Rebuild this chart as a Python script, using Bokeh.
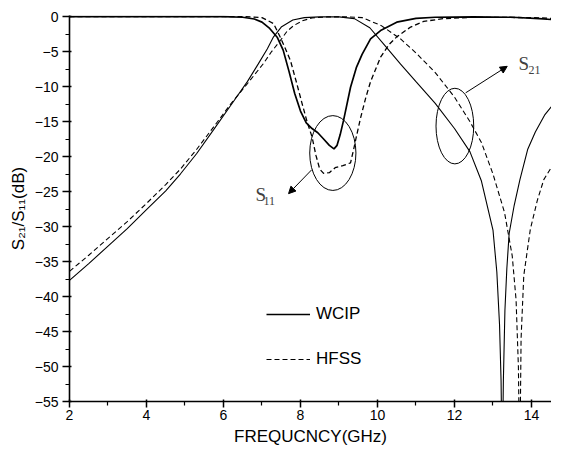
from bokeh.plotting import figure
from bokeh.models import (Range1d, FixedTicker, Legend, LegendItem, Arrow, NormalHead)
from bokeh.core.properties import value
from bokeh.embed import file_html
from bokeh.resources import INLINE

# ---------------- data ----------------
s21_wcip_f = [2.0, 2.5, 3.0, 3.5, 4.0, 4.5, 4.88, 5.3, 5.74, 6.2, 6.62, 6.9, 7.14, 7.3, 7.5,
              7.8, 8.1, 8.5, 9.0, 9.4, 9.8, 10.2, 10.6, 11.0, 11.5, 12.0, 12.4, 12.7,
              13.0, 13.1, 13.17, 13.21, 13.24, 13.27, 13.31, 13.36, 13.42, 13.55, 13.7,
              13.9, 14.1, 14.35, 14.6, 14.95]
s21_wcip_db = [-37.7, -35.3, -32.8, -30.3, -27.6, -24.9, -22.5, -19.6, -16.2, -12.6, -9.3,
               -6.8, -4.6, -2.9, -1.5, -0.5, -0.15, -0.05, -0.05, -0.3, -1.6, -4.2, -6.8,
               -9.3, -12.4, -16.0, -19.3, -23.5, -30.5, -36.5, -44.0, -52.0, -65.0, -52.0,
               -42.0, -36.0, -31.0, -27.0, -23.3, -19.0, -16.5, -14.0, -12.3, -11.7]

s21_hfss_f = [2.0, 2.5, 3.0, 3.5, 4.0, 4.5, 4.88, 5.3, 5.74, 6.2, 6.62, 7.04, 7.25, 7.48, 7.65,
              7.82, 8.05, 8.3, 8.7, 9.2, 9.6, 10.1, 10.6, 11.0, 11.5, 12.0, 12.4, 12.7, 13.0,
              13.3, 13.5, 13.6, 13.66, 13.695, 13.73, 13.8, 13.97, 14.15, 14.32, 14.6, 14.95]
s21_hfss_db = [-36.4, -34.1, -31.7, -29.3, -26.7, -24.0, -21.8, -19.0, -15.8, -12.4, -9.6,
               -6.7, -5.0, -3.4, -2.1, -1.3, -0.6, -0.2, -0.05, -0.05, -0.15, -1.3, -3.2,
               -5.2, -8.0, -11.5, -15.0, -18.0, -22.5, -28.0, -34.2, -40.5, -50.0, -65.0,
               -46.0, -37.0, -30.4, -26.3, -23.3, -20.8, -19.0]

s11_wcip_f = [2.0, 4.0, 6.0, 6.5, 6.8, 7.0, 7.2, 7.4, 7.55, 7.7, 7.85, 8.0, 8.15, 8.3, 8.45,
              8.6, 8.75, 8.87, 8.95, 9.03, 9.12, 9.3, 9.45, 9.6, 9.82, 10.08, 10.5, 11.0,
              11.5, 12.5, 13.5, 14.2, 14.95]
s11_wcip_db = [0.0, 0.0, -0.02, -0.1, -0.35, -0.8, -1.7, -3.0, -4.8, -7.8, -11.0, -13.5,
               -15.2, -16.0, -16.6, -17.5, -18.4, -18.9, -18.4, -16.9, -14.8, -10.1, -7.3,
               -5.4, -3.2, -2.0, -0.8, -0.25, -0.1, -0.05, -0.1, -0.3, -0.6]

s11_hfss_f = [2.0, 4.0, 6.5, 7.0, 7.3, 7.48, 7.6, 7.74, 7.9, 8.04, 8.17, 8.3, 8.4, 8.5, 8.6,
              8.75, 8.9, 9.1, 9.3, 9.38, 9.45, 9.56, 9.7, 9.82, 10.08, 10.3, 10.5, 10.86,
              11.2, 11.7, 12.5, 14.0, 14.95]
s11_hfss_db = [0.0, 0.0, 0.0, -0.15, -1.0, -3.0, -4.5, -6.3, -9.5, -12.4, -15.0, -17.2,
               -19.8, -21.8, -22.4, -22.3, -21.6, -21.3, -20.9, -19.0, -17.2, -14.5, -11.5,
               -9.3, -5.8, -4.0, -2.9, -1.5, -0.7, -0.3, -0.1, -0.15, -0.35]

x_ticks = [2, 4, 6, 8, 10, 12, 14]
x_minor = [3, 5, 7, 9, 11, 13, 15]
y_ticks = [0, -5, -10, -15, -20, -25, -30, -35, -40, -45, -50, -55]
y_minor = [-2.5, -7.5, -12.5, -17.5, -22.5, -27.5, -32.5, -37.5, -42.5, -47.5, -52.5]

series_names = ["WCIP", "HFSS"]

# ---------------- figure ----------------
FONT = "Liberation Sans"
p = figure(frame_width=482, frame_height=386, output_backend="svg", toolbar_location=None,
           x_range=Range1d(2, 14.52), y_range=Range1d(-55, 0.15),
           min_border_left=69, min_border_top=15, min_border_right=0, min_border_bottom=0)
p.outline_line_color = None
p.xgrid.visible = False
p.ygrid.visible = False

p.xaxis.ticker = FixedTicker(ticks=x_ticks, minor_ticks=x_minor)
p.yaxis.ticker = FixedTicker(ticks=y_ticks, minor_ticks=y_minor)
for ax in (p.xaxis, p.yaxis):
    ax.axis_line_width = 1.6
    ax.axis_line_color = "black"
    ax.major_tick_line_width = 1.5
    ax.minor_tick_line_width = 1.2
    ax.major_tick_line_color = "black"
    ax.minor_tick_line_color = "black"
    ax.major_tick_out = 7
    ax.minor_tick_out = 4
    ax.major_label_text_font = FONT
    ax.major_label_text_font_size = "14px"
    ax.major_label_text_color = "black"
    ax.axis_label_text_font = FONT
    ax.axis_label_text_font_size = "17px"
    ax.axis_label_text_font_style = "normal"
    ax.axis_label_text_color = "black"
p.xaxis.major_tick_out = 6
p.xaxis.major_label_standoff = 2
p.yaxis.major_label_standoff = 4
p.xaxis.axis_label = "FREQUCNCY(GHz)"
p.yaxis.axis_label = "S\u2082\u2081/S\u2081\u2081(dB)"
p.xaxis.axis_label_standoff = 4
p.xaxis.axis_label_text_line_height = 1.0
p.yaxis.axis_label_standoff = 4

r_s21_w = p.line(s21_wcip_f, s21_wcip_db, line_color="black", line_width=1.1)
r_s21_h = p.line(s21_hfss_f, s21_hfss_db, line_color="black", line_width=1.1, line_dash="5 3")
r_s11_w = p.line(s11_wcip_f, s11_wcip_db, line_color="black", line_width=1.7)
r_s11_h = p.line(s11_hfss_f, s11_hfss_db, line_color="black", line_width=1.3, line_dash="5 3")

# ---------------- annotations ----------------
p.ellipse(x=[8.84], y=[-19.5], width=1.2, height=10.7, fill_color=None,
          line_color="black", line_width=1)
p.ellipse(x=[12.01], y=[-15.65], width=0.98, height=10.8, fill_color=None,
          line_color="black", line_width=1)

p.add_layout(Arrow(end=NormalHead(size=7, fill_color="black", line_color="black"),
                   x_start=8.29, y_start=-21.9, x_end=7.69, y_end=-25.3,
                   line_color="black", line_width=1))
p.add_layout(Arrow(end=NormalHead(size=7, fill_color="black", line_color="black"),
                   x_start=12.29, y_start=-10.9, x_end=13.37, y_end=-7.11,
                   line_color="black", line_width=1))

SERIF = value("Liberation Serif")
p.text(x=[6.83], y=[-25.4], text=["S"], text_font=SERIF, text_font_size="19px",
       text_color="#404040", text_align="left", text_baseline="alphabetic")
p.text(x=[7.04], y=[-26.3], text=["11"], text_font=SERIF, text_font_size="12px",
       text_color="#404040", text_align="left", text_baseline="alphabetic")
p.text(x=[13.66], y=[-6.69], text=["S"], text_font=SERIF, text_font_size="19px",
       text_color="#404040", text_align="left", text_baseline="alphabetic")
p.text(x=[13.92], y=[-7.68], text=["21"], text_font=SERIF, text_font_size="12px",
       text_color="#404040", text_align="left", text_baseline="alphabetic")

legend = Legend(items=[LegendItem(label=series_names[0], renderers=[r_s11_w]),
                       LegendItem(label=series_names[1], renderers=[r_s21_h])],
                location=(197, 32), glyph_width=44, glyph_height=20, label_height=20,
                label_standoff=6, spacing=25, padding=0, margin=0,
                border_line_color=None, background_fill_alpha=0,
                label_text_font=FONT, label_text_font_size="17px", label_text_color="black")
p.add_layout(legend)

open("out.html", "w").write(file_html(p, INLINE))
